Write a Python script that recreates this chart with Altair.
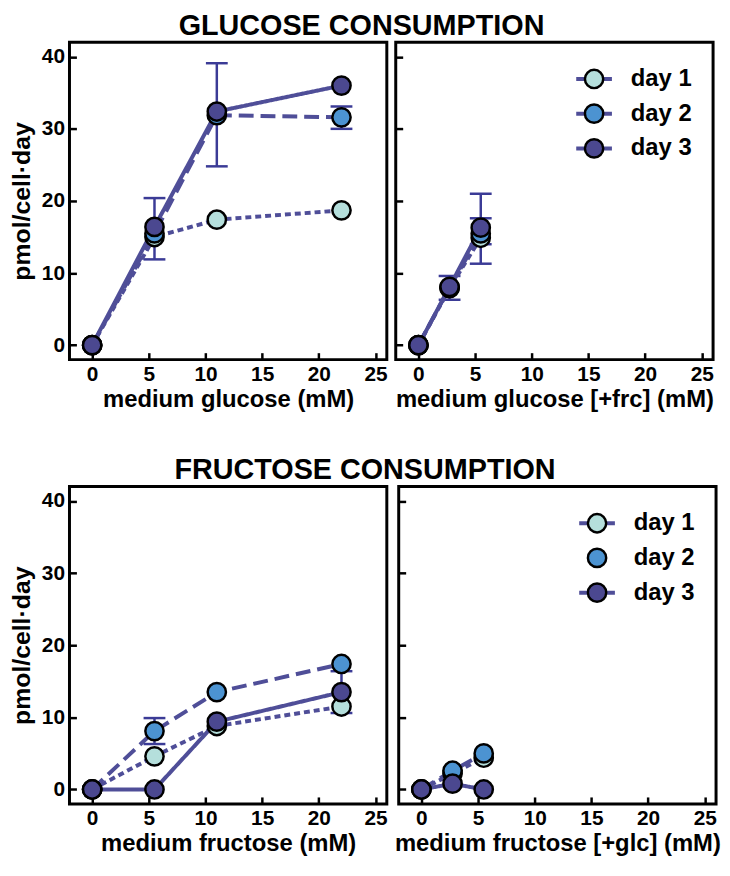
import altair as alt
import pandas as pd

DAYS = ["day 1", "day 2", "day 3"]
FILLS = ["#b5dfdc", "#4c93d1", "#4b4890"]
LINE_COLOR = "#4f4e98"
ERR_COLOR = "#3b3b96"
X_TICKS = [0, 5, 10, 15, 20, 25]
Y_TICKS = [0, 10, 20, 30, 40]

# glucose consumption, medium glucose
GLC_X = [0, 5.5, 11, 22]
GLC_D1 = [0, 15.0, 17.4, 18.7]
GLC_D2 = [0, 15.5, 31.9, 31.6]
GLC_D3 = [0, 16.4, 32.4, 36.0]
GLC_ERR_X = [5.5, 11, 22]
GLC_ERR_LO = [11.9, 24.8, 30.0]
GLC_ERR_HI = [20.4, 39.1, 33.1]

# glucose consumption, medium glucose [+frc]
GLCF_X = [0, 2.75, 5.5]
GLCF_D1 = [0, 7.9, 14.9]
GLCF_D2 = [0, 8.0, 15.5]
GLCF_D3 = [0, 8.1, 16.3]
GLCF_ERR_X = [2.75, 5.5, 5.5]
GLCF_ERR_LO = [6.3, 11.3, 14.0]
GLCF_ERR_HI = [9.6, 21.0, 17.6]

# fructose consumption, medium fructose
FRC_X = [0, 5.5, 11, 22]
FRC_D1 = [0, 4.6, 8.8, 11.5]
FRC_D2 = [0, 8.1, 13.5, 17.4]
FRC_D3 = [0, 0, 9.4, 13.5]
FRC_ERR_X = [5.5, 22]
FRC_ERR_LO = [6.3, 10.6]
FRC_ERR_HI = [9.9, 16.4]

# fructose consumption, medium fructose [+glc]
FRCG_X = [0, 2.75, 5.5]
FRCG_D1 = [0, 2.2, 4.4]
FRCG_D2 = [0, 2.6, 5.0]
FRCG_D3 = [0, 0.8, 0]

FONT = "Liberation Sans"


def panel(xs, series, err_x, err_lo, err_hi, xtitle, ytitle, legend_lines):
    rows = []
    for day, ys in zip(DAYS, series):
        for x, y in zip(xs, ys):
            rows.append({"day": day, "x": x, "y": y})
    df = pd.DataFrame(rows)

    xscale = alt.Scale(domain=[-2, 26], nice=False, zero=False)
    yscale = alt.Scale(domain=[-2, 42], nice=False, zero=False)
    xaxis = alt.Axis(values=X_TICKS, title=xtitle, offset=-7, tickSize=7, tickWidth=2.5,
                     tickColor="black", domain=False, grid=False,
                     labelFontSize=21, labelFontWeight="bold", labelColor="black",
                     labelPadding=4, titleFontSize=24, titleFontWeight="bold",
                     titleColor="black", titlePadding=3, labelFlush=False)
    if ytitle:
        yaxis = alt.Axis(values=Y_TICKS, title=ytitle, offset=-7, tickSize=7, tickWidth=2.5,
                         tickColor="black", domain=False, grid=False,
                         labelFontSize=21, labelFontWeight="bold", labelColor="black",
                         labelPadding=5, titleFontSize=25, titleFontWeight="bold",
                         titleColor="black", titlePadding=7, labelFlush=False)
    else:
        yaxis = alt.Axis(values=Y_TICKS, title=None, offset=-7, tickSize=7, tickWidth=2.5,
                         tickColor="black", domain=False, grid=False, labels=False)

    X = alt.X("x:Q", scale=xscale, axis=xaxis)
    Y = alt.Y("y:Q", scale=yscale, axis=yaxis)

    layers = []
    if err_x:
        edf = pd.DataFrame({"x": err_x, "lo": err_lo, "hi": err_hi})
        base = alt.Chart(edf)
        layers.append(base.mark_rule(color=ERR_COLOR, strokeWidth=2.5).encode(
            x=X, y=alt.Y("lo:Q", scale=yscale, axis=yaxis), y2="hi:Q"))
        layers.append(base.mark_tick(orient="horizontal", size=22, thickness=2.5,
                                     color=ERR_COLOR, opacity=1).encode(
            x=X, y=alt.Y("lo:Q", scale=yscale, axis=yaxis)))
        layers.append(base.mark_tick(orient="horizontal", size=22, thickness=2.5,
                                     color=ERR_COLOR, opacity=1).encode(
            x=X, y=alt.Y("hi:Q", scale=yscale, axis=yaxis)))

    lines = alt.Chart(df).mark_line(strokeWidth=4, color=LINE_COLOR).encode(
        x=X, y=Y,
        strokeDash=alt.StrokeDash("day:N", scale=alt.Scale(domain=DAYS, range=[[6, 4], [15, 7], [1, 0]]),
                                  legend=None))
    points = alt.Chart(df).mark_point(shape="circle", filled=True, size=340, stroke="black",
                                      strokeWidth=2.5, opacity=1).encode(
        x=X, y=Y,
        fill=alt.Fill("day:N", scale=alt.Scale(domain=DAYS, range=FILLS), legend=None))
    layers += [lines, points]

    if legend_lines is not None:
        for i, day in enumerate(DAYS):
            ly = 37 + 35 * i
            ldf = pd.DataFrame({"label": [day]})
            if legend_lines[i]:
                layers.append(alt.Chart(ldf).mark_rule(color=LINE_COLOR, strokeWidth=4).encode(
                    x=alt.value(182), x2=alt.value(218), y=alt.value(ly)))
            layers.append(alt.Chart(ldf).mark_point(shape="circle", filled=True, size=340,
                                                    stroke="black", strokeWidth=2.5, opacity=1,
                                                    fill=FILLS[i]).encode(
                x=alt.value(200), y=alt.value(ly)))
            layers.append(alt.Chart(ldf).mark_text(align="left", baseline="middle", fontSize=24,
                                                   fontWeight="bold", font=FONT, color="black").encode(
                x=alt.value(237), y=alt.value(ly), text="label:N"))

    return alt.layer(*layers).properties(width=320, height=320)


tl = panel(GLC_X, [GLC_D1, GLC_D2, GLC_D3], GLC_ERR_X, GLC_ERR_LO, GLC_ERR_HI,
           "medium glucose (mM)", "pmol/cell·day", None)
tr = panel(GLCF_X, [GLCF_D1, GLCF_D2, GLCF_D3], GLCF_ERR_X, GLCF_ERR_LO, GLCF_ERR_HI,
           "medium glucose [+frc] (mM)", None, [True, True, True])
bl = panel(FRC_X, [FRC_D1, FRC_D2, FRC_D3], FRC_ERR_X, FRC_ERR_LO, FRC_ERR_HI,
           "medium fructose (mM)", "pmol/cell·day", None)
br = panel(FRCG_X, [FRCG_D1, FRCG_D2, FRCG_D3], [], [], [],
           "medium fructose [+glc] (mM)", None, [True, False, True])

title_kw = dict(fontSize=29, fontWeight="bold", font=FONT, anchor="middle", color="black", offset=0)
top = alt.hconcat(tl, tr, spacing=4, title=alt.TitleParams("GLUCOSE CONSUMPTION", **title_kw))
bottom = alt.hconcat(bl, br, spacing=4, title=alt.TitleParams("FRUCTOSE CONSUMPTION", **title_kw))

chart = alt.vconcat(top, bottom, spacing=43).configure(
    font=FONT, padding={"left": 0, "top": 0, "right": 0, "bottom": 0}
).configure_view(stroke="black", strokeWidth=3)

chart.save("out.html", embed_options={"renderer": "svg", "actions": False})
